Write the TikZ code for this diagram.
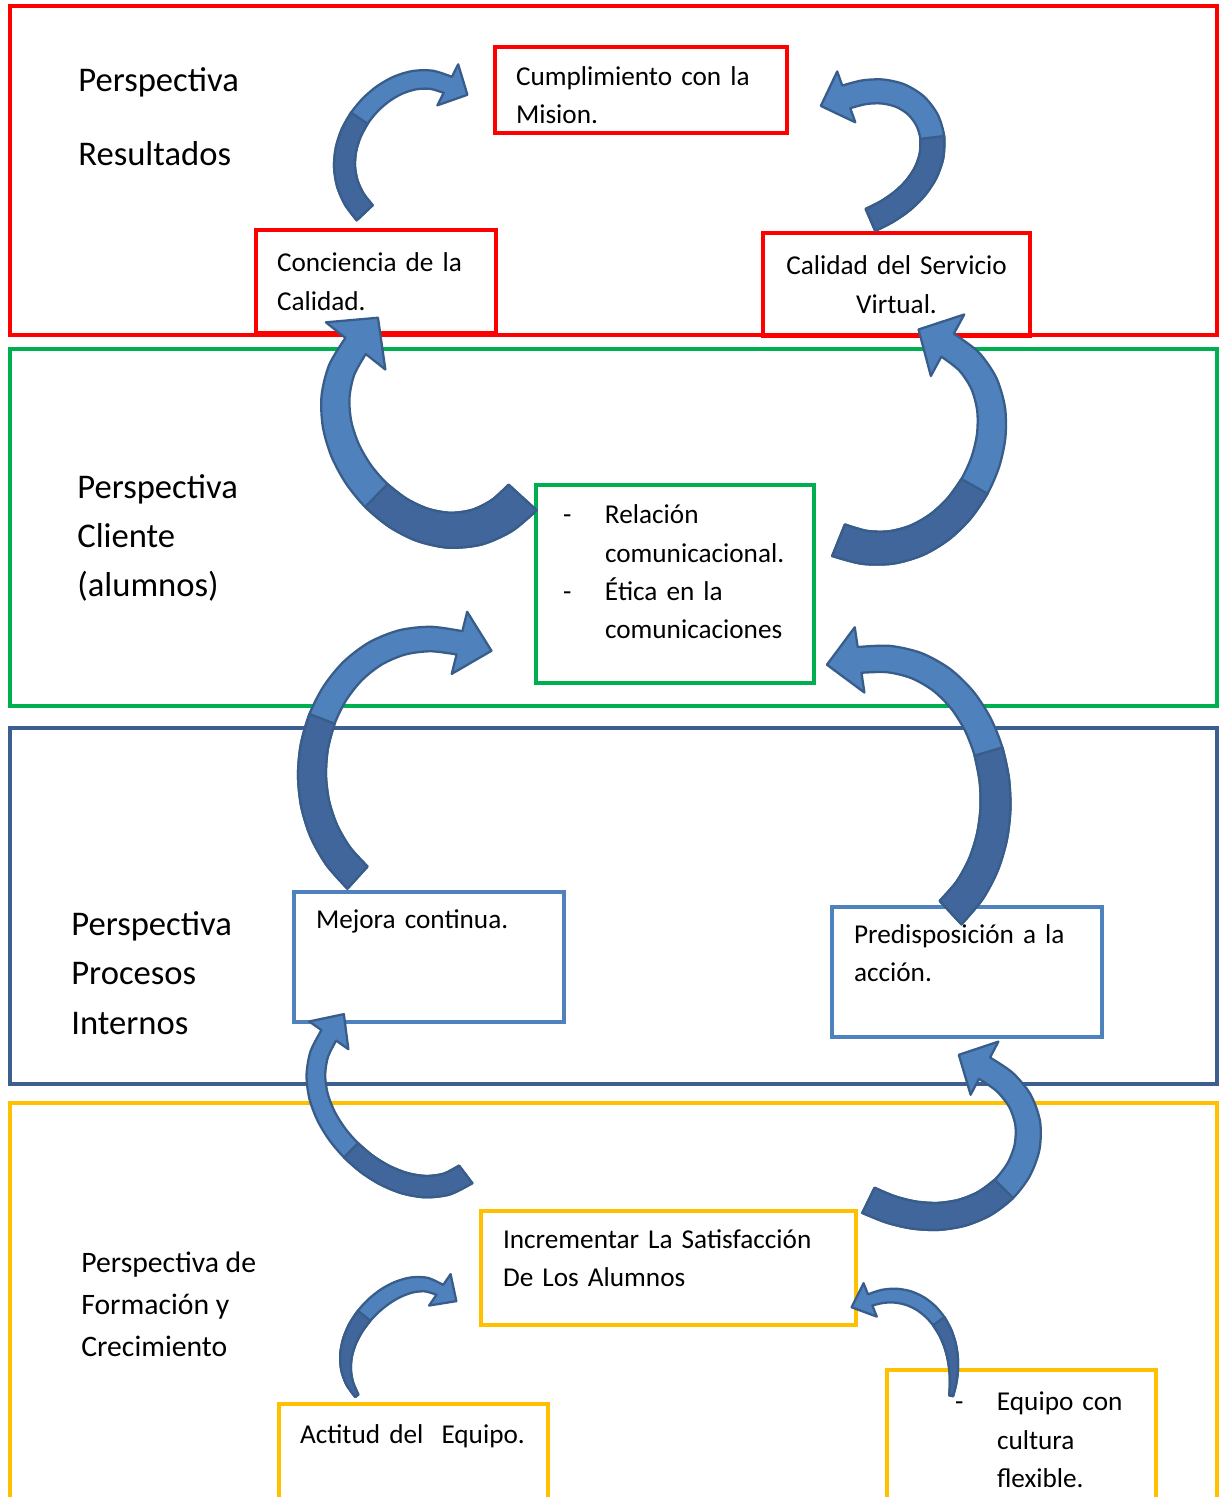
\documentclass[tikz,border=0pt]{standalone}
\usepackage{fontspec}
\setmainfont{Carlito}
\usepackage{tikz}
\usetikzlibrary{calc,decorations.markings}

\definecolor{framered}{HTML}{FF0000}
\definecolor{framegreen}{HTML}{00B050}
\definecolor{frameblue}{HTML}{3D5F8F}
\definecolor{boxblue}{HTML}{4F81BD}
\definecolor{frameyellow}{HTML}{FFC000}
\definecolor{ribbonlight}{HTML}{4F81BD}
\definecolor{ribbondark}{HTML}{40669B}
\definecolor{ribbonedge}{HTML}{385D8A}

\hyphenpenalty=10000
\exhyphenpenalty=10000

\newcommand{\ribbon}[7]{%
  \foreach \k in {0,...,12}{%
    \pgfmathsetmacro\rpos{0.002+0.996*\k/12}%
    \pgfmathsetmacro\rw{0.2*(#2+(#3-#2)*\k/12+4*#4*(\k/12)*(1-\k/12))}%
    \path[decorate, decoration={markings, mark=at position \rpos with {%
        \coordinate (#1l\k) at (0mm,\rw mm);
        \coordinate (#1r\k) at (0mm,-\rw mm);}}] #7;
  }
  \path[decorate, decoration={markings, mark=at position 0.998 with {%
      \coordinate (#1wl) at (0mm,{0.2*#5*1mm});
      \coordinate (#1wr) at (0mm,{-0.2*#5*1mm});
      \coordinate (#1tip) at ({0.2*#6*1mm},0mm);}}] #7;
  \filldraw[ribface] (#1r0) -- plot[smooth] coordinates {(#1l0) (#1l1) (#1l2) (#1l3) (#1l4) (#1l5) (#1l6) (#1l7) (#1l8) (#1l9) (#1l10) (#1l11) (#1l12)}
    -- (#1wl) -- (#1tip) -- (#1wr)
    -- plot[smooth] coordinates {(#1r12) (#1r11) (#1r10) (#1r9) (#1r8) (#1r7) (#1r6) (#1r5) (#1r4) (#1r3) (#1r2) (#1r1) (#1r0)} -- cycle;
  \filldraw[ribback] (#1r0) -- plot[smooth] coordinates {(#1l0) (#1l1) (#1l2) (#1l3) (#1l4) (#1l5) (#1l6)}
    -- plot[smooth] coordinates {(#1r6) (#1r5) (#1r4) (#1r3) (#1r2) (#1r1) (#1r0)} -- cycle;
}

\begin{document}
\begin{tikzpicture}[
    x=0.02cm, y=-0.02cm,
    frame/.style={line width=2.3pt},
    box/.style={draw, line width=2.2pt, align=left, inner ysep=0pt, font=\fontsize{15.5}{21.8}\selectfont},
    title/.style={align=left, inner sep=0pt, anchor=west, font=\fontsize{19.7}{28}\selectfont},
    ribface/.style={fill=ribbonlight, draw=ribbonedge, line width=1.3pt, line join=round},
    ribback/.style={fill=ribbondark, draw=ribbonedge, line width=1.3pt, line join=round}
  ]
    \useasboundingbox (0,0) rectangle (1219,1497);

    \draw[frame, framered]    (10,6) rectangle (1217,335);
    \draw[frame, framegreen]  (10,349) rectangle (1217,706);
    \draw[frame, frameblue]   (10,728) rectangle (1217,1084);
    \draw[frame, frameyellow] (10,1103) rectangle (1217,1540);

    \node[title] (tres)  at (78,117)  {Perspectiva\\[14pt]Resultados};
    \node[title] (tcli)  at (77,538)  {Perspectiva\\Cliente\\(alumnos)};
    \node[title] (tproc) at (71,973)  {Perspectiva\\Procesos\\Internos};
    \node[title, font=\fontsize{16.9}{23.8}\selectfont] (tform) at (81,1304) {Perspectiva de\\Formación y\\Crecimiento};

    \node[box, draw=framered, minimum width=5.84cm, minimum height=1.72cm, text width=5.0cm, inner xsep=0.42cm]
      (mission) at (641,90) {\mbox{}\\[-5pt]Cumplimiento con la\\Mision.};
    \node[box, draw=framered, minimum width=4.8cm, minimum height=2.06cm, text width=3.96cm, inner xsep=0.42cm]
      (awareness) at (376,281.5) {Conciencia de la\\Calidad.};
    \node[box, draw=framered, align=center, minimum width=5.34cm, minimum height=2.06cm, text width=4.54cm, inner xsep=0.4cm]
      (quality) at (896.5,284.5) {\mbox{Calidad del Servicio}\\Virtual.};
    \node[box, draw=framegreen, minimum width=5.56cm, minimum height=3.96cm, text width=4.48cm, inner xsep=0.54cm]
      (ethics) at (675,584) {\makebox[0.84cm][l]{-}Relación\\\hspace*{0.84cm}comunicacional.\\\makebox[0.84cm][l]{-}Ética en la\\\hspace*{0.84cm}comunicaciones\\[-8pt]\mbox{}};
    \node[box, draw=boxblue, minimum width=5.4cm, minimum height=2.6cm, text width=4.52cm, inner xsep=0.44cm]
      (improve) at (429,957) {Mejora continua.\\\mbox{}\\\mbox{}};
    \node[box, draw=boxblue, minimum width=5.4cm, minimum height=2.6cm, text width=4.52cm, inner xsep=0.44cm]
      (readiness) at (967,972) {Predisposición a la\\acción.\\\mbox{}};
    \node[box, draw=frameyellow, minimum width=7.5cm, minimum height=2.28cm, text width=6.62cm, inner xsep=0.44cm]
      (satisfy) at (668.5,1268) {Incrementar La Satisfacción\\De Los Alumnos\\[-10.4pt]\mbox{}};
    \node[box, draw=frameyellow, minimum width=5.38cm, minimum height=2.72cm, text width=4.54cm, inner xsep=0.42cm]
      (attitude) at (413.5,1472) {\mbox{Actitud del\ \ Equipo.}\\\mbox{}\\\mbox{}};
    \node[box, draw=frameyellow, minimum width=5.38cm, minimum height=2.8cm, text width=4.58cm, inner xsep=0.4cm]
      (team) at (1021.5,1440) {\hspace*{0.96cm}\mbox{\makebox[0.84cm][l]{-}Equipo con}\\\hspace*{1.8cm}cultura\\\hspace*{1.8cm}flexible.};

    \ribbon{ra}{11}{9}{0}{23}{22}{($(awareness.north)+(-11,-15)$) .. controls (305,150) and (390,55) .. ($(mission.west)+(-45,-5)$)}
    \ribbon{rb}{12}{12}{0}{27}{27}{($(quality.north)+(-26.5,-11)$) .. controls (975,175) and (935,65) .. ($(mission.east)+(57,7)$)}
    \ribbon{rc}{19}{13}{0}{38}{36}{($(ethics.west)+(-11,-87)$) .. controls (430,600) and (280,440) .. ($(awareness.south)+(-20,10.5)$)}
    \ribbon{rd}{17}{13}{0}{35}{33}{($(ethics.east)+(22,-44)$) .. controls (960,590) and (1050,400) .. ($(quality.south)+(50.5,7)$)}
    \ribbon{re}{15}{12}{0}{32}{33}{($(improve.north)+(-71,-12)$) .. controls (260,790) and (330,610) .. ($(ethics.west)+(-74,59)$)}
    \ribbon{rf}{16}{13}{0}{33}{33}{($(readiness.north)+(-17,8)$) .. controls (1040,830) and (990,640) .. ($(ethics.east)+(43,76)$)}
    \ribbon{rg}{11}{9}{0}{24}{26}{($(satisfy.north west)+(-13,-35)$) .. controls (400,1225) and (275,1110) .. ($(improve.south west)+(37,11)$)}
    \ribbon{rh}{14}{12}{0}{30}{29}{($(satisfy.north east)+(10,-9)$) .. controls (1000,1265) and (1085,1120) .. ($(readiness.south)+(17,29)$)}
    \ribbon{ri}{2}{6}{4}{19}{20}{($(attitude.north)+(-56.5,-6)$) .. controls (315,1340) and (400,1262) .. ($(satisfy.west)+(-39,22)$)}
    \ribbon{rj}{2}{6}{3}{18}{20}{($(team.north west)+(66,28)$) .. controls (965,1330) and (920,1280) .. ($(satisfy.east)+(12,32)$)}
  \end{tikzpicture}
\end{document}
